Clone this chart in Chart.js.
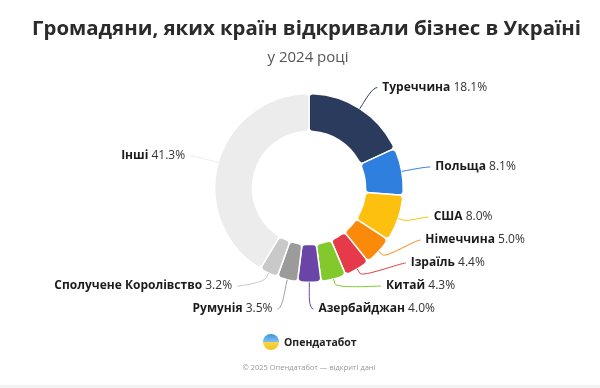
<!DOCTYPE html>
<html>
<head>
<meta charset="utf-8">
<script src="https://cdn.jsdelivr.net/npm/chart.js@4.4.1/dist/chart.umd.min.js"></script>
<style>
  html, body { margin: 0; padding: 0; background: #fff; }
  #wrap { position: relative; width: 600px; height: 388px; overflow: hidden; font-family: "Open Sans", sans-serif; }
  #chart { position: absolute; left: 0; top: 0; }
  .title { position: absolute; left: 0; width: 613px; top: 13px; text-align: center; font-size: 20.4px; font-weight: 700; color: #2b2b2b; }
  .sub { position: absolute; left: 0; width: 616px; top: 46px; text-align: center; font-size: 15px; color: #555; }
  .brand { position: absolute; left: 263px; top: 333px; height: 18px; display: flex; align-items: center; }
  .logo { width: 16px; height: 16px; border-radius: 50%; background: linear-gradient(#3d8fe0 0%, #7cc0f0 48%, #f6d54a 52%, #f2c21c 100%); margin-right: 5px; }
  .brand span { font-size: 10.5px; font-weight: 700; color: #222; }
  .foot { position: absolute; left: 0; width: 618px; top: 362px; text-align: center; font-size: 7.5px; color: #999; }
  .strip { position: absolute; left: 0; top: 385px; width: 600px; height: 3px; background: #f3f3f3; }
</style>
</head>
<body>
<div id="wrap">
  <canvas id="chart" width="600" height="388"></canvas>
  <div class="title">Громадяни, яких країн відкривали бізнес в Україні</div>
  <div class="sub">у 2024 році</div>
  <div class="brand"><div class="logo"></div><span>Опендатабот</span></div>
  <div class="foot">© 2025 Опендатабот — відкриті дані</div>
  <div class="strip"></div>
</div>
<script>
const countries = ['Туреччина', 'Польща', 'США', 'Німеччина', 'Ізраїль', 'Китай', 'Азербайджан', 'Румунія', 'Сполучене Королівство', 'Інші'];
const shares = [18.1, 8.1, 8.0, 5.0, 4.4, 4.3, 4.0, 3.5, 3.2, 41.3];
const colors = ['#2b3b5e', '#2f80de', '#fdc00f', '#fb8a0a', '#e6394a', '#82c92d', '#6a45a6', '#9b9b9b', '#c9c9c9', '#ececec'];

// labels outside with connector lines, spread out so they don't overlap
const outsideLabels = {
  id: 'outsideLabels',
  afterDatasetsDraw(chart) {
    const ctx = chart.ctx;
    const arcs = chart.getDatasetMeta(0).data;
    const dist = 25, gap = 23, maxY = 309, minY = 80;
    const items = arcs.map((arc, i) => {
      const p = arc.getProps(['x', 'y', 'startAngle', 'endAngle', 'outerRadius']);
      const a = (p.startAngle + p.endAngle) / 2;
      const R = p.outerRadius;
      return {
        i, a, R, cx: p.x, cy: p.y,
        left: Math.cos(a) < 0,
        ny: p.y + Math.sin(a) * (R + dist),
        nx: p.x + Math.cos(a) * (R + dist)
      };
    });
    [true, false].forEach(side => {
      const g = items.filter(it => it.left === side).sort((a, b) => a.ny - b.ny);
      g.forEach((it, k) => { it.y = k ? Math.max(it.ny, g[k - 1].y + gap) : Math.max(it.ny, minY); });
      for (let k = g.length - 1; k >= 0; k--) {
        g[k].y = Math.min(g[k].y, k < g.length - 1 ? g[k + 1].y - gap : maxY);
      }
    });
    items.forEach(it => {
      const Rd = it.R + dist;
      const dy = it.y - it.cy;
      const circ = Math.sqrt(Math.max(Rd * Rd - dy * dy, 0));
      const off = Math.max(circ, Math.abs(it.nx - it.cx));
      const s = it.left ? -1 : 1;
      const ax = it.cx + s * off;
      const tx = it.cx + Math.cos(it.a) * it.R, ty = it.cy + Math.sin(it.a) * it.R;
      const bx = it.cx + Math.cos(it.a) * (it.R + 5), by = it.cy + Math.sin(it.a) * (it.R + 5);
      ctx.save();
      ctx.strokeStyle = colors[it.i];
      ctx.lineWidth = 1;
      ctx.beginPath();
      ctx.moveTo(ax + s * 4, it.y);
      ctx.bezierCurveTo(ax - s * 1, it.y, 2 * bx - tx, 2 * by - ty, bx, by);
      ctx.lineTo(tx, ty);
      ctx.stroke();

      const name = countries[it.i];
      const val = ' ' + shares[it.i].toFixed(1) + '%';
      ctx.textBaseline = 'middle';
      ctx.font = 'bold 12px "Open Sans"';
      const wn = ctx.measureText(name).width;
      ctx.font = '12px "Open Sans"';
      const wv = ctx.measureText(val).width;
      const x0 = it.left ? ax - 9 - wn - wv : ax + 9;
      ctx.font = 'bold 12px "Open Sans"';
      ctx.fillStyle = '#1b1b1b';
      ctx.fillText(name, x0, it.y);
      ctx.font = '12px "Open Sans"';
      ctx.fillStyle = '#333';
      ctx.fillText(val, x0 + wn, it.y);
      ctx.restore();
    });
  }
};

new Chart(document.getElementById('chart'), {
  type: 'doughnut',
  data: {
    labels: countries,
    datasets: [{
      data: shares,
      backgroundColor: colors,
      borderColor: '#fff',
      borderWidth: 1.5,
      borderRadius: 4,
      hoverOffset: 0
    }]
  },
  options: {
    responsive: false,
    animation: false,
    cutout: '60%',
    layout: { padding: { left: 214, right: 196, top: 93, bottom: 105 } },
    plugins: { legend: { display: false }, tooltip: { enabled: false }, title: { display: false } }
  },
  plugins: [outsideLabels]
});
</script>
</body>
</html>
